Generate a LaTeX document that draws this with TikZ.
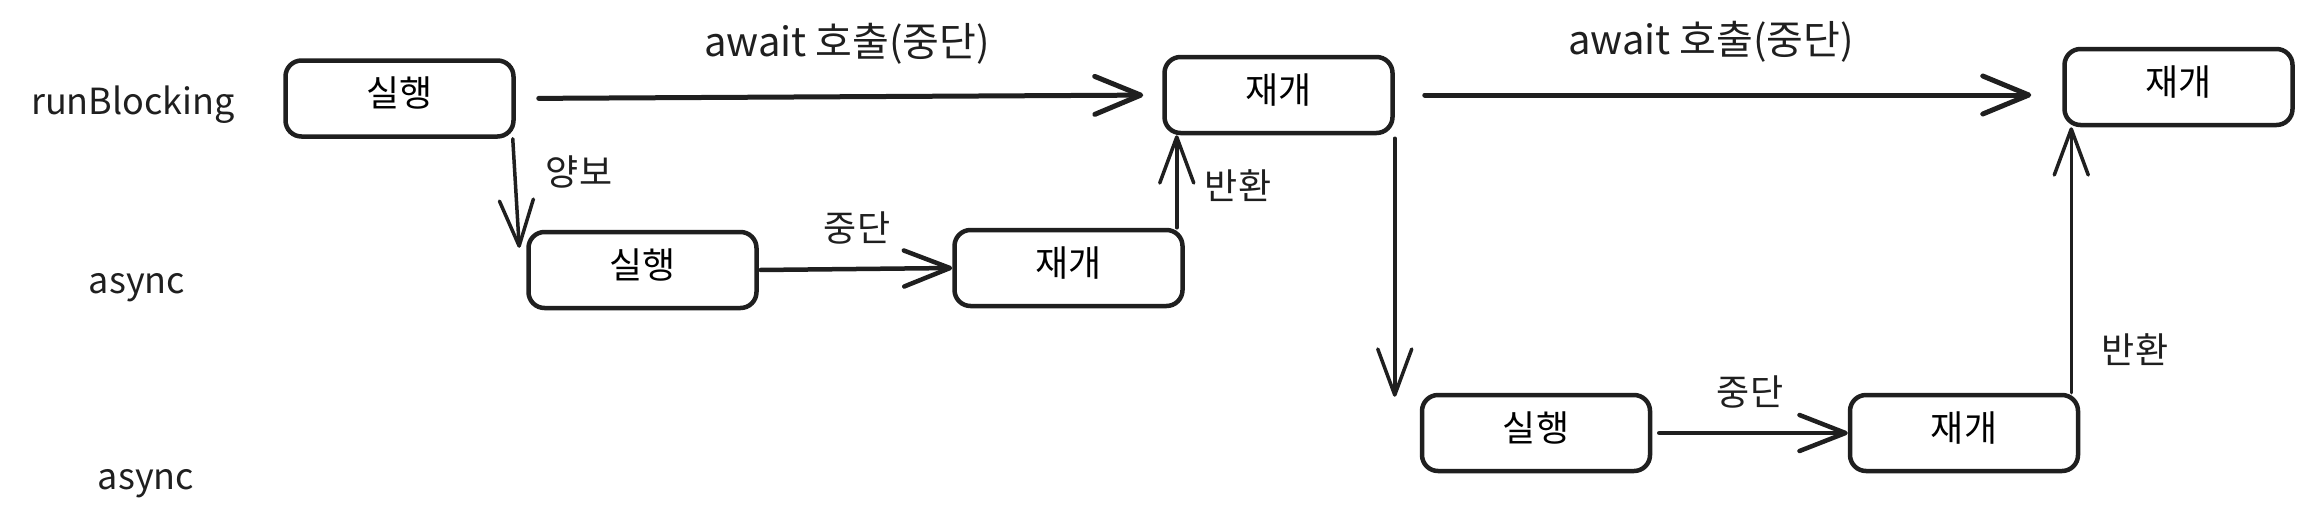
\documentclass[tikz,border=0pt]{standalone}
\usepackage{fontspec}
\setmainfont{Noto Sans CJK KR}
\usetikzlibrary{arrows.meta,calc}
\begin{document}
\begin{tikzpicture}[x=1pt,y=-1pt,
  box/.style={draw=black!88, line width=4.5pt, rounded corners=16pt, minimum width=228pt, minimum height=76pt, inner sep=0pt, text height=30pt, text depth=14pt, font=\fontsize{36}{42}\selectfont},
  lbl/.style={inner sep=0pt, text=black!88, font=\fontsize{36}{42}\selectfont},
  lane/.style={inner sep=0pt, text=black!88, font=\fontsize{36}{42}\selectfont},
  bigarrow/.style={draw=black!88, line width=5pt, line cap=round, line join=round, -{Straight Barb[length=46pt,width=38pt,round]}},
  midarrow/.style={draw=black!88, line width=4.5pt, line cap=round, line join=round, -{Straight Barb[length=46pt,width=36pt,round]}},
  vertarrow/.style={draw=black!88, line width=3.5pt, line cap=round, line join=round, -{Straight Barb[length=46pt,width=34pt,round]}}]
\useasboundingbox (0,0) rectangle (2315,523);
% lane labels
\node[lane] (rb) at (133,105) {runBlocking};
\node[lane] (as1) at (137,288) {async};
\node[lane] (as2) at (146,484) {async};
% boxes
\node[box] (A1) at (399.5,98.5) {실행};
\node[box] (B1) at (1278.5,95) {재개};
\node[box] (C1) at (2178.5,87) {재개};
\node[box] (A2) at (642.5,270) {실행};
\node[box] (B2) at (1068.5,268) {재개};
\node[box] (A3) at (1536,433) {실행};
\node[box] (B3) at (1964,433) {재개};
% edge labels
\node[lbl] (l1) at (847,44) {\fontsize{40}{46}\selectfont await 호출(중단)};
\node[lbl] (l2) at (1711,42) {\fontsize{40}{46}\selectfont await 호출(중단)};
\node[lbl] (l3) at (579,172) {양보};
\node[lbl] (l4) at (857,228) {중단};
\node[lbl] (l5) at (1238,186) {반환};
\node[lbl] (l6) at (1750,392) {중단};
\node[lbl] (l7) at (2135,350) {반환};
% anchor points for the vertical connectors
\coordinate (s1) at ($(A1.south east)+(-3,0)$);
\coordinate (e1) at ($(A2.north west)+(-7,18)$);
\coordinate (s2) at ($(B2.north east)+(-8,0)$);
\coordinate (s3) at ($(B1.south east)+(0,3)$);
\coordinate (s4) at ($(B3.north east)+(-9,0)$);
% connectors
\draw[bigarrow, shorten <=23pt, shorten >=19pt] (A1.east) -- (B1.west);
\draw[bigarrow, shorten <=30pt, shorten >=31pt] (B1.east) -- (B1.east -| C1.west);
\draw[vertarrow] (s1) -- (e1);
\draw[midarrow, shorten <=2pt] (A2.east) -- (B2.west);
\draw[vertarrow] (s2) -- (s2 |- B1.south);
\draw[vertarrow, shorten >=-4pt] (s3) -- (s3 |- A3.north);
\draw[midarrow, shorten <=7pt] (A3.east) -- (B3.west);
\draw[vertarrow] (s4) -- (s4 |- C1.south);
\end{tikzpicture}
\end{document}
